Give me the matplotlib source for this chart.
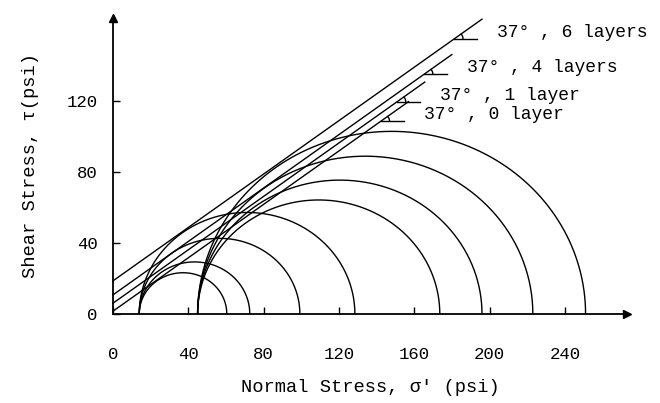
import numpy as np
import matplotlib
matplotlib.use('Agg')
from matplotlib import pyplot as plt

# Mohr circle data (psi)
layers = ['0 layer', '1 layer', '4 layers', '6 layers']
sigma3_low = 14.0
sigma1_low = [60.5, 72.7, 99.3, 128.5]
sigma3_high = 45.0
sigma1_high = [173.6, 196.0, 223.0, 251.0]

# failure envelopes
phi = 37.0  # degrees
cohesion = [1.5, 6.0, 10.7, 18.6]
line_end = [157.0, 165.6, 180.0, 196.0]

x_ticks = [0, 40, 80, 120, 160, 200, 240]
y_ticks = [0, 40, 80, 120]

mono = 'Liberation Mono'

fig = plt.figure(figsize=(6.6, 4.03), dpi=100)
ax = fig.add_axes([0.171, 0.221, 0.779, 0.7345])
ax.set_xlim(0, 273)
ax.set_ylim(0, 167)

lw = 1.0
theta = np.linspace(0, np.pi, 300)


def mohr(s3, s1):
    c = (s1 + s3) / 2
    r = (s1 - s3) / 2
    ax.plot(c + r * np.cos(theta), r * np.sin(theta), color='black', lw=lw)


for s1 in sigma1_low:
    mohr(sigma3_low, s1)
for s1 in sigma1_high:
    mohr(sigma3_high, s1)

slope = np.tan(np.radians(phi))
for name, c, xe in zip(layers, cohesion, line_end):
    xs = np.array([0, xe])
    ax.plot(xs, c + slope * xs, color='black', lw=lw, clip_on=False)
    ye = c + slope * xe
    # small angle mark below the end of the line
    ym = ye - 11
    xm = (ym - c) / slope
    ax.plot([xm, xm + 12], [ym, ym], color='black', lw=lw, clip_on=False)
    a = np.linspace(0, np.radians(phi), 20)
    ax.plot(xm + 4.5 * np.cos(a), ym + 4.2 * np.sin(a), color='black', lw=lw,
            clip_on=False)
    ax.text(xe + 8, ye - 7.5, '37\u00b0 , ' + name, fontsize=13, family=mono,
            va='center', ha='left', clip_on=False)

# axes with arrows
for s in ['top', 'right']:
    ax.spines[s].set_visible(False)
ax.spines['left'].set_linewidth(1.3)
ax.spines['bottom'].set_linewidth(1.3)
ax.plot(1, 0, '>k', markersize=6, transform=ax.get_yaxis_transform(),
        clip_on=False)
ax.plot(0, 1, '^k', markersize=6, transform=ax.get_xaxis_transform(),
        clip_on=False)

ax.set_xticks(x_ticks)
ax.set_yticks(y_ticks)
ax.tick_params(axis='x', direction='in', length=5, width=1, pad=24)
ax.tick_params(axis='y', direction='in', length=5, width=1, pad=11)
for lab in ax.get_xticklabels() + ax.get_yticklabels():
    lab.set_family(mono)
    lab.set_fontsize(12.5)

ax.set_xlabel("Normal Stress, \u03c3' (psi)", family=mono, fontsize=13.5,
              labelpad=12)
ax.set_ylabel('Shear Stress, \u03c4(psi)', family=mono, fontsize=13.5,
              labelpad=20)

fig.savefig('out.png', dpi=100)
